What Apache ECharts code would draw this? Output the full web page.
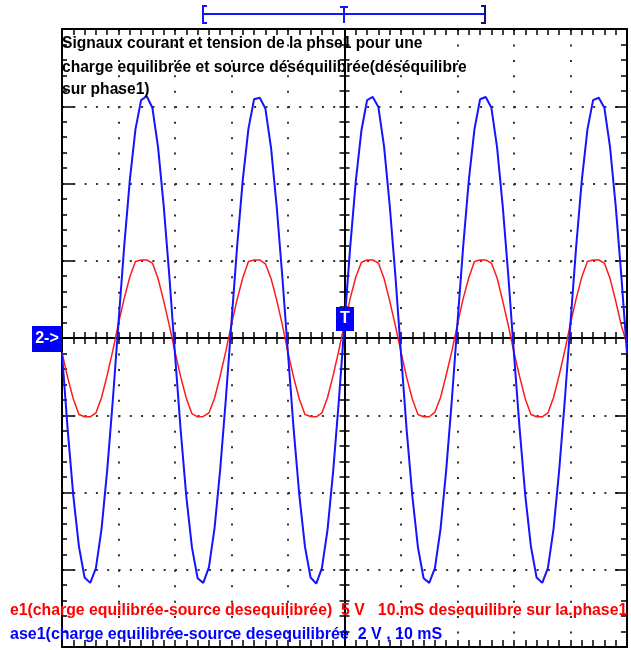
<!DOCTYPE html>
<html>
<head>
<meta charset="utf-8">
<script src="https://cdn.jsdelivr.net/npm/echarts@6.0.0/dist/echarts.min.js"></script>
<style>
  html, body { margin: 0; padding: 0; background: #fff; }
  #main { width: 631px; height: 650px; }
</style>
</head>
<body>
<div id="main"></div>
<script>
// time base: 10 ms / div, samples every 1 ms
var timeMs = [0,1,2,3,4,5,6,7,8,9,10,11,12,13,14,15,16,17,18,19,20,21,22,23,24,25,26,27,28,29,30,31,32,33,34,35,36,37,38,39,40,41,42,43,44,45,46,47,48,49,50,51,52,53,54,55,56,57,58,59,60,61,62,63,64,65,66,67,68,69,70,71,72,73,74,75,76,77,78,79,80,81,82,83,84,85,86,87,88,89,90,91,92,93,94,95,96,97,98,99,100];

// red trace, 5 V / div (volts)
var redVolts = [
  -0.95,-2.55,-3.95,-4.95,-5.1,-5.1,-4.85,-3.85,-2.4,-0.8, 0.95,2.55,3.95,4.95,5.05,5.05,4.85,3.85,2.4,0.8,
  -0.9,-2.5,-3.9,-4.9,-5.1,-5.08,-4.85,-3.9,-2.45,-0.85, 0.9,2.5,3.9,4.95,5.05,5.05,4.8,3.85,2.45,0.85,
  -0.95,-2.55,-3.95,-4.95,-5.08,-5.1,-4.85,-3.85,-2.4,-0.8, 0.95,2.55,3.95,4.9,5.05,5.05,4.85,3.85,2.4,0.8,
  -0.9,-2.55,-3.95,-4.95,-5.1,-5.1,-4.8,-3.85,-2.4,-0.85, 0.9,2.55,3.9,4.95,5.05,5.05,4.85,3.9,2.4,0.8,
  -0.95,-2.5,-3.95,-4.95,-5.1,-5.1,-4.85,-3.85,-2.4,-0.8, 0.95,2.55,3.95,4.95,5.05,5.05,4.85,3.85,2.4,0.8,
  -0.4
];

// blue trace, 2 V / div (volts)
var blueVolts = [
  -0.4,-2.36,-4.08,-5.4,-6.2,-6.34,-5.96,-4.94,-3.42,-1.6, 0.4,2.36,4.08,5.4,6.16,6.26,5.96,4.94,3.42,1.6,
  -0.42,-2.38,-4.1,-5.42,-6.22,-6.34,-5.94,-4.92,-3.4,-1.58, 0.42,2.38,4.1,5.42,6.18,6.22,5.94,4.92,3.4,1.58,
  -0.4,-2.36,-4.06,-5.4,-6.2,-6.36,-5.96,-4.96,-3.44,-1.62, 0.38,2.34,4.06,5.38,6.16,6.24,5.98,4.96,3.44,1.62,
  -0.4,-2.38,-4.08,-5.42,-6.22,-6.34,-5.96,-4.94,-3.42,-1.6, 0.4,2.36,4.08,5.4,6.18,6.24,5.96,4.94,3.42,1.6,
  -0.42,-2.36,-4.08,-5.4,-6.2,-6.34,-5.96,-4.94,-3.42,-1.6, 0.4,2.36,4.08,5.4,6.16,6.22,5.96,4.94,3.42,1.6,
  -0.4
];

var titleLines = [
  'Signaux courant et tension de la phse1 pour une',
  'charge equilibrée et source déséquilibrée(déséquilibre',
  'sur phase1)'
];
var redLegend = 'e1(charge equilibrée-source desequilibrée)  5 V   10.mS desequilibre sur la.phase1';
var blueLegend = 'ase1(charge equilibrée-source desequilibrée  2 V , 10 mS';

var chartDom = document.getElementById('main');
var myChart = echarts.init(chartDom);
var option;

var GRID = { left: 62, right: 4, top: 29, bottom: 3 };
var gw = 631 - GRID.left - GRID.right;
var gh = 650 - GRID.top - GRID.bottom;
var BLUE = '#1414ff';
var dotsX = [2, 9.3];   // dots every 1/5 div horizontally
var dotsY = [2, 13.45]; // dots every 1/5 div vertically

function xAx(pos, offset, inside, len, extra) {
  return Object.assign({
    type: 'value', min: 0, max: 100, interval: 10, position: pos, offset: offset,
    axisLine: { onZero: false, lineStyle: { color: '#000', width: 2 } },
    axisTick: { inside: inside, length: len, lineStyle: { color: '#000', width: 1.5 } },
    minorTick: { show: true, splitNumber: 5, length: len, lineStyle: { color: '#000', width: 1.5 } },
    axisLabel: { show: false },
    splitLine: { show: false }
  }, extra || {});
}
function yAx(pos, offset, inside, len, minorLen, min, max, interval, extra) {
  return Object.assign({
    type: 'value', min: min, max: max, interval: interval, position: pos, offset: offset,
    axisLine: { onZero: false, lineStyle: { color: '#000', width: 2 } },
    axisTick: { inside: inside, length: len, lineStyle: { color: '#000', width: 1.5 } },
    minorTick: { show: true, splitNumber: 5, length: minorLen, lineStyle: { color: '#000', width: 1.5 } },
    axisLabel: { show: false },
    splitLine: { show: false }
  }, extra || {});
}

var graphics = [
  // cursor bar above the screen
  { type: 'line', shape: { x1: 203, y1: 14, x2: 485, y2: 14 }, style: { stroke: BLUE, lineWidth: 2 } },
  { type: 'polyline', shape: { points: [[207, 6], [203, 6], [203, 23], [207, 23]] }, style: { stroke: BLUE, lineWidth: 2, fill: null } },
  { type: 'polyline', shape: { points: [[481, 6], [485, 6], [485, 23], [481, 23]] }, style: { stroke: '#10107a', lineWidth: 2, fill: null } },
  { type: 'line', shape: { x1: 344, y1: 6, x2: 344, y2: 23 }, style: { stroke: BLUE, lineWidth: 2 } },
  { type: 'line', shape: { x1: 340, y1: 7, x2: 348, y2: 7 }, style: { stroke: BLUE, lineWidth: 2 } },
  // channel marker
  { type: 'rect', shape: { x: 32, y: 326, width: 30, height: 26 }, style: { fill: '#0000ff' }, z: 50 },
  { type: 'text', x: 47, y: 339, z: 51, style: { text: '2->', fill: '#fff', font: 'bold 16px "Liberation Sans", Arial, sans-serif', align: 'center', verticalAlign: 'middle' } },
  // trigger marker
  { type: 'rect', shape: { x: 336, y: 307, width: 18, height: 24 }, style: { fill: '#0000ff' }, z: 50 },
  { type: 'text', x: 345, y: 319, z: 51, style: { text: 'T', fill: '#fff', font: 'bold 16px "Liberation Sans", Arial, sans-serif', align: 'center', verticalAlign: 'middle' } }
];
var titleY = [44, 68, 90];
titleLines.forEach(function (t, i) {
  graphics.push({ type: 'text', x: 62, y: titleY[i], z: 60,
    style: { text: t, fill: '#000', font: 'bold 15.6px "Liberation Sans", Arial, sans-serif', align: 'left', verticalAlign: 'middle' } });
});
graphics.push({ type: 'text', x: 10, y: 611, z: 60,
  style: { text: redLegend, fill: '#ff0000', font: 'bold 15.8px "Liberation Sans", Arial, sans-serif', align: 'left', verticalAlign: 'middle' } });
graphics.push({ type: 'text', x: 10, y: 635, z: 60,
  style: { text: blueLegend, fill: '#0000ff', font: 'bold 16px "Liberation Sans", Arial, sans-serif', align: 'left', verticalAlign: 'middle' } });

option = {
  animation: false,
  backgroundColor: '#fff',
  grid: { left: GRID.left, right: GRID.right, top: GRID.top, bottom: GRID.bottom, containLabel: false },
  xAxis: [
    xAx('bottom', 0, true, 7, { splitLine: { show: true, lineStyle: { color: '#333', width: 2, type: dotsY } } }),
    xAx('top', 0, true, 6),
    xAx('bottom', -gh / 2, true, 6),
    xAx('bottom', -gh / 2, false, 6)
  ],
  yAxis: [
    yAx('left', 0, true, 12, 5, -20, 20, 5, { splitLine: { show: true, lineStyle: { color: '#333', width: 2, type: dotsX } } }),
    yAx('right', 0, true, 12, 6, -8, 8, 2),
    yAx('left', -gw / 2, true, 5, 5, -4, 4, 1),
    yAx('left', -gw / 2, false, 5, 5, -4, 4, 1)
  ],
  series: [
    {
      name: 'tension', type: 'line', xAxisIndex: 0, yAxisIndex: 0, showSymbol: false, symbol: 'none', z: 3,
      lineStyle: { color: '#ff1a1a', width: 1.5 },
      data: timeMs.map(function (t, i) { return [t, redVolts[i]]; })
    },
    {
      name: 'courant', type: 'line', xAxisIndex: 0, yAxisIndex: 1, showSymbol: false, symbol: 'none', z: 4,
      lineStyle: { color: BLUE, width: 2 },
      data: timeMs.map(function (t, i) { return [t, blueVolts[i]]; })
    }
  ],
  graphic: graphics
};

option && myChart.setOption(option);
</script>
</body>
</html>
